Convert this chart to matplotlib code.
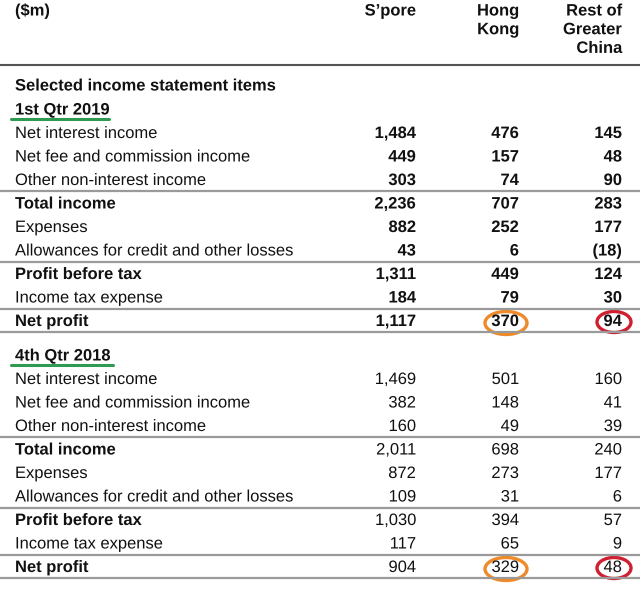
import matplotlib
matplotlib.use("Agg")
import matplotlib.pyplot as plt
from matplotlib.patches import Ellipse
from matplotlib import patheffects

plt.rcParams['font.family'] = ['Liberation Sans', 'DejaVu Sans']

columns = ["S\u2019pore", "Hong\nKong", "Rest of\nGreater\nChina"]
unit_label = "($m)"
section_title = "Selected income statement items"
periods = ["1st Qtr 2019", "4th Qtr 2018"]
row_labels = ["Net interest income", "Net fee and commission income",
              "Other non-interest income", "Total income", "Expenses",
              "Allowances for credit and other losses", "Profit before tax",
              "Income tax expense", "Net profit"]
bold_rows = ["Total income", "Profit before tax", "Net profit"]
q1_2019_spore = ["1,484", "449", "303", "2,236", "882", "43", "1,311", "184", "1,117"]
q1_2019_hk = ["476", "157", "74", "707", "252", "6", "449", "79", "370"]
q1_2019_rgc = ["145", "48", "90", "283", "177", "(18)", "124", "30", "94"]
q4_2018_spore = ["1,469", "382", "160", "2,011", "872", "109", "1,030", "117", "904"]
q4_2018_hk = ["501", "148", "49", "698", "273", "31", "394", "65", "329"]
q4_2018_rgc = ["160", "41", "39", "240", "177", "6", "57", "9", "48"]

period_values = [
    (q1_2019_spore, q1_2019_hk, q1_2019_rgc, True),
    (q4_2018_spore, q4_2018_hk, q4_2018_rgc, False),
]

fig = plt.figure(figsize=(6.4, 5.9), dpi=100)
ax = fig.add_axes([0, 0, 1, 1])
ax.set_xlim(0, 640)
ax.set_ylim(590, 0)
ax.axis('off')

fs = 11.9
txt = '#111111'
col_x = [416, 519, 622]
label_x = 15
bl = 5.5  # baseline offset from row centre
pe = [patheffects.Normal()]


def put(x, y, s, bold=False, ha='left'):
    ax.text(x, y + bl, s, fontsize=fs, fontweight='bold' if bold else 'normal',
            color=txt, va='baseline', ha=ha, path_effects=pe)


# header
put(label_x, 10, unit_label, bold=True)
header_step = 18.7
for cx, c in zip(col_x, columns):
    for k, line in enumerate(c.split("\n")):
        put(cx, 10 + k * header_step, line, bold=True, ha='right')
ax.plot([0, 640], [65, 65], color='#555555', lw=1.5, solid_capstyle='butt')

put(label_x, 85, section_title, bold=True)

section_starts = [109, 355]
underline_ends = [109, 113]
row_step = 23.5
green = '#2f9a52'
orange = '#ee8a2a'
red = '#cf1f30'

for start, uend, period, (sp, hk, rg, bold_nums) in zip(section_starts, underline_ends, periods, period_values):
    put(label_x, start, period, bold=True)
    ax.plot([11, uend], [start + 9.5, start + 9.5], color=green, lw=2.2, solid_capstyle='round')
    ys = []
    y = start + 23.5
    for i, lab in enumerate(row_labels):
        ys.append(y)
        put(label_x, y, lab, bold=lab in bold_rows)
        for cx, vals in zip(col_x, (sp, hk, rg)):
            put(cx, y, vals[i], bold=bold_nums, ha='right')
        y += row_step
    for idx in (2, 5, 7, 8):
        ly = ys[idx] + 11.8
        ax.plot([0, 640], [ly, ly], color='#9a9a9a', lw=1.6, solid_capstyle='butt')
    ny = ys[8]
    ax.add_patch(Ellipse((506, ny + 2.5), 42, 23, fill=False, ec=orange, lw=2.4))
    ax.add_patch(Ellipse((614, ny + 1.5), 34, 21, fill=False, ec=red, lw=2.4))

fig.savefig('out.png', dpi=100)
